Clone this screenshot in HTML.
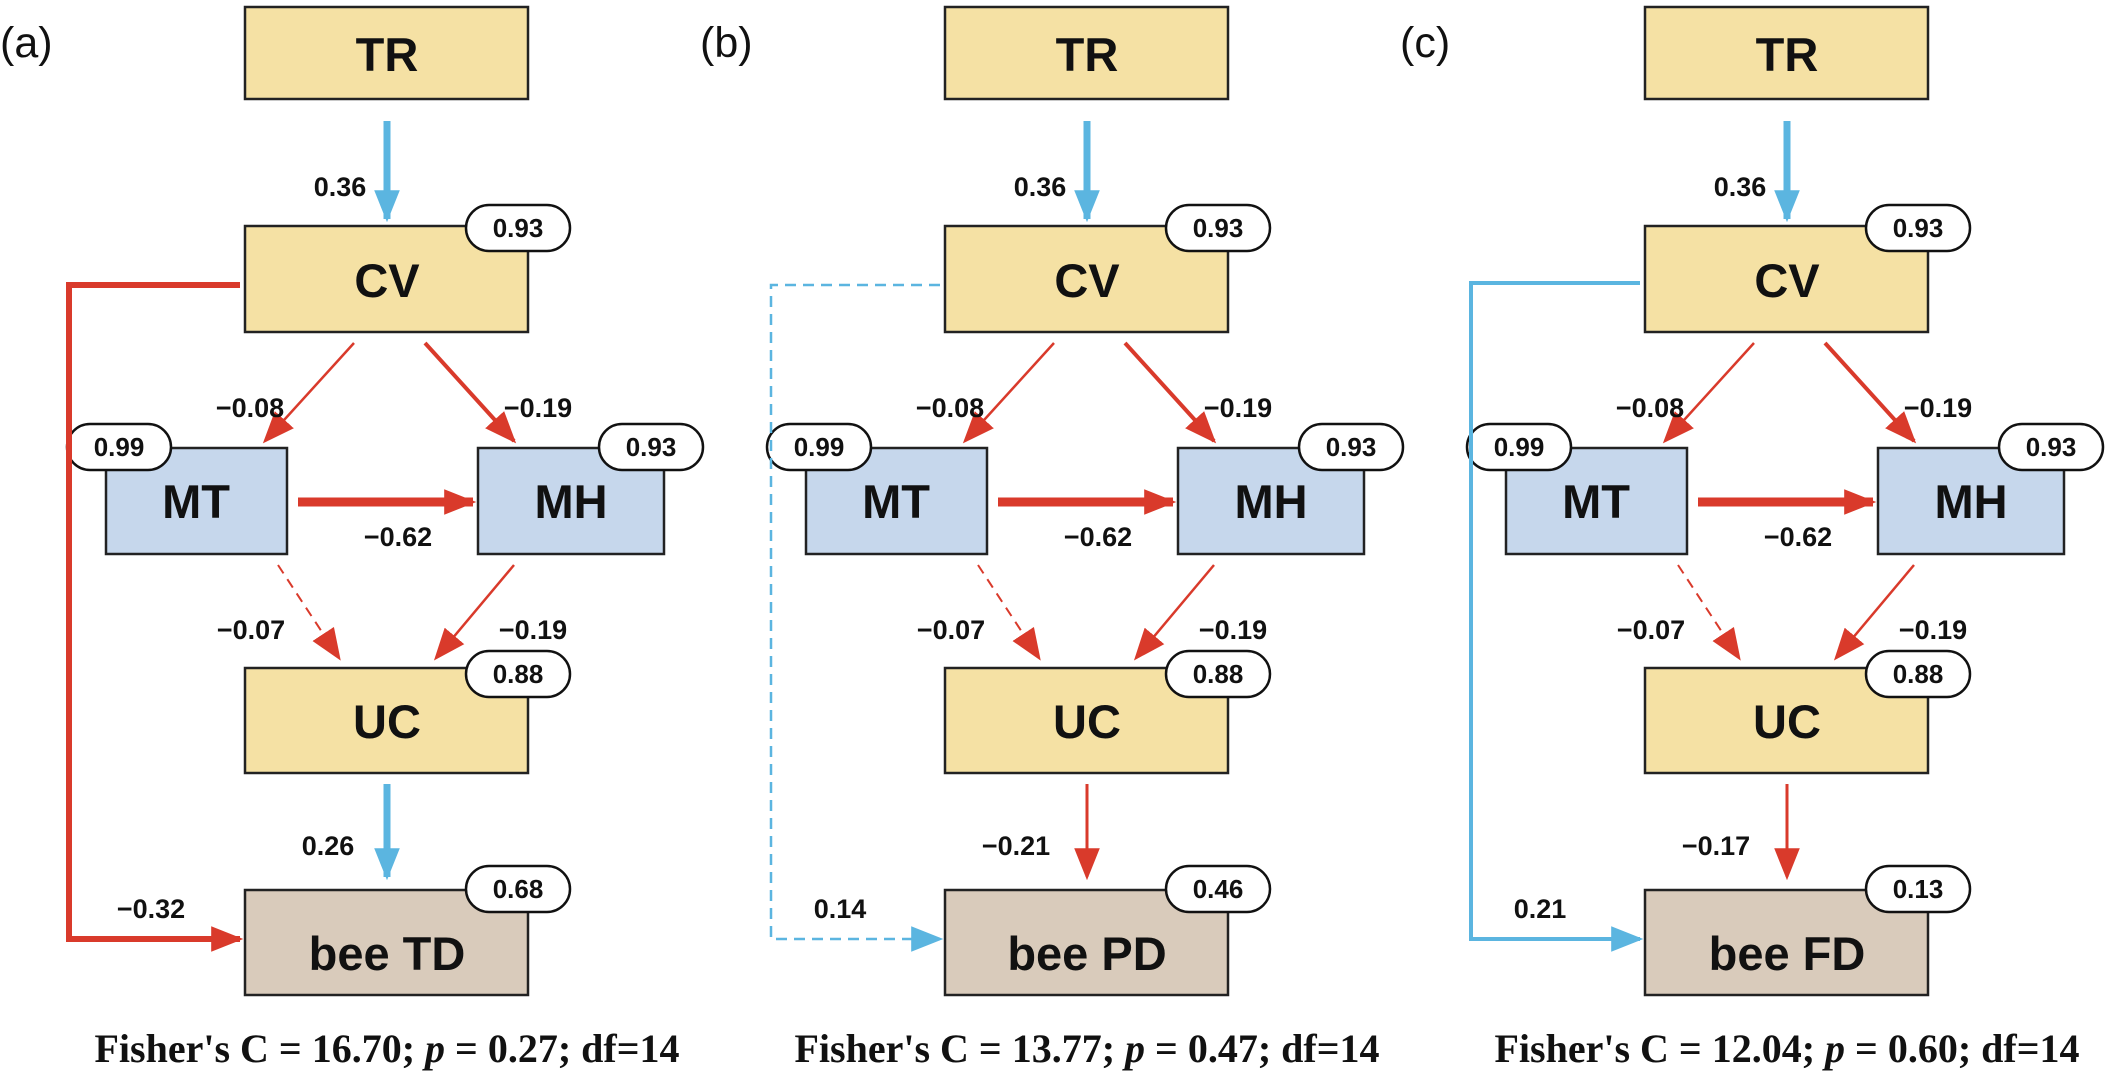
<!DOCTYPE html>
<html><head><meta charset="utf-8"><style>
html,body{margin:0;padding:0;background:#fff;}
svg{display:block;}
.bx{stroke:#222;stroke-width:2.5;}
.bt{font-family:"Liberation Sans",sans-serif;font-weight:bold;font-size:47px;text-anchor:middle;fill:#111;}
.pl{fill:#fff;stroke:#111;stroke-width:2.5;}
.pt{font-family:"Liberation Sans",sans-serif;font-weight:bold;font-size:26px;text-anchor:middle;fill:#111;}
.lb{font-family:"Liberation Sans",sans-serif;font-weight:bold;font-size:27px;text-anchor:middle;fill:#111;}
.fc{font-family:"Liberation Serif",serif;font-weight:bold;font-size:40px;text-anchor:middle;fill:#111;}
.pn{font-family:"Liberation Sans",sans-serif;font-size:43px;fill:#111;}
</style></head><body>
<svg width="2128" height="1077" viewBox="0 0 2128 1077">
<defs>
<marker id="arR" viewBox="0 0 10 8" refX="9" refY="4" markerWidth="32" markerHeight="26" orient="auto" markerUnits="userSpaceOnUse"><path d="M0,0 L10,4 L0,8 Z" fill="#d93a2b"/></marker>
<marker id="arB" viewBox="0 0 10 8" refX="9" refY="4" markerWidth="32" markerHeight="26" orient="auto" markerUnits="userSpaceOnUse"><path d="M0,0 L10,4 L0,8 Z" fill="#5bb5e0"/></marker>
</defs>

<g id="common">
<rect class="bx" x="245" y="7" width="283" height="92" fill="#f5e1a4"/><text class="bt" x="387" y="71">TR</text>
<rect class="bx" x="245" y="226" width="283" height="106" fill="#f5e1a4"/><text class="bt" x="387" y="297">CV</text>
<rect class="bx" x="106" y="448" width="181" height="106" fill="#c6d7ec"/><text class="bt" x="196" y="518">MT</text>
<rect class="bx" x="478" y="448" width="186" height="106" fill="#c6d7ec"/><text class="bt" x="571" y="518">MH</text>
<rect class="bx" x="245" y="668" width="283" height="105" fill="#f5e1a4"/><text class="bt" x="387" y="738">UC</text>
<rect class="bx" x="245" y="890" width="283" height="105" fill="#d9cbbb"/>
<rect class="pl" x="466" y="205" width="104" height="46" rx="23"/><text class="pt" x="518" y="237">0.93</text>
<rect class="pl" x="67" y="424" width="104" height="46" rx="23"/><text class="pt" x="119" y="456">0.99</text>
<rect class="pl" x="599" y="424" width="104" height="46" rx="23"/><text class="pt" x="651" y="456">0.93</text>
<rect class="pl" x="466" y="651" width="104" height="46" rx="23"/><text class="pt" x="518" y="683">0.88</text>
<rect class="pl" x="466" y="866" width="104" height="46" rx="23"/>
<line x1="387" y1="121" x2="387" y2="219" stroke="#5bb5e0" stroke-width="7" marker-end="url(#arB)"/>
<text class="lb" x="340" y="196">0.36</text>
<line x1="354" y1="343" x2="265" y2="441" stroke="#d93a2b" stroke-width="2.5" marker-end="url(#arR)"/>
<text class="lb" x="250" y="417">−0.08</text>
<line x1="425" y1="343" x2="514" y2="441" stroke="#d93a2b" stroke-width="4" marker-end="url(#arR)"/>
<text class="lb" x="538" y="417">−0.19</text>
<line x1="298" y1="502" x2="473" y2="502" stroke="#d93a2b" stroke-width="9" marker-end="url(#arR)"/>
<text class="lb" x="398" y="546">−0.62</text>
<line x1="278" y1="565" x2="339" y2="658" stroke="#d93a2b" stroke-width="2" stroke-dasharray="10,7" marker-end="url(#arR)"/>
<text class="lb" x="251" y="639">−0.07</text>
<line x1="514" y1="565" x2="436" y2="658" stroke="#d93a2b" stroke-width="2.5" marker-end="url(#arR)"/>
<text class="lb" x="533" y="639">−0.19</text>
</g>
<use href="#common" transform="translate(700,0)"/>
<use href="#common" transform="translate(1400,0)"/>

<!-- panel a -->
<text class="pn" x="0" y="57">(a)</text>
<text class="bt" x="387" y="970">bee TD</text>
<text class="pt" x="518" y="898">0.68</text>
<line x1="387" y1="784" x2="387" y2="877" stroke="#5bb5e0" stroke-width="7" marker-end="url(#arB)"/>
<text class="lb" x="328" y="855">0.26</text>
<polyline points="240,285 69,285 69,939 240,939" fill="none" stroke="#d93a2b" stroke-width="6" marker-end="url(#arR)"/>
<text class="lb" x="151" y="918">−0.32</text>
<text class="fc" x="387" y="1062">Fisher's C = 16.70; <tspan font-style="italic">p</tspan> = 0.27; df=14</text>

<!-- panel b -->
<g transform="translate(700,0)">
<text class="pn" x="0" y="57">(b)</text>
<text class="bt" x="387" y="970">bee PD</text>
<text class="pt" x="518" y="898">0.46</text>
<line x1="387" y1="784" x2="387" y2="877" stroke="#d93a2b" stroke-width="3" marker-end="url(#arR)"/>
<text class="lb" x="316" y="855">−0.21</text>
<polyline points="240,285 71,285 71,939 240,939" fill="none" stroke="#5bb5e0" stroke-width="2.5" stroke-dasharray="11,7" marker-end="url(#arB)"/>
<text class="lb" x="140" y="918">0.14</text>
<text class="fc" x="387" y="1062">Fisher's C = 13.77; <tspan font-style="italic">p</tspan> = 0.47; df=14</text>
</g>

<!-- panel c -->
<g transform="translate(1400,0)">
<text class="pn" x="0" y="57">(c)</text>
<text class="bt" x="387" y="970">bee FD</text>
<text class="pt" x="518" y="898">0.13</text>
<line x1="387" y1="784" x2="387" y2="877" stroke="#d93a2b" stroke-width="3" marker-end="url(#arR)"/>
<text class="lb" x="316" y="855">−0.17</text>
<polyline points="240,283 71,283 71,939 240,939" fill="none" stroke="#5bb5e0" stroke-width="4" marker-end="url(#arB)"/>
<text class="lb" x="140" y="918">0.21</text>
<text class="fc" x="387" y="1062">Fisher's C = 12.04; <tspan font-style="italic">p</tspan> = 0.60; df=14</text>
</g>
</svg>
</body></html>
